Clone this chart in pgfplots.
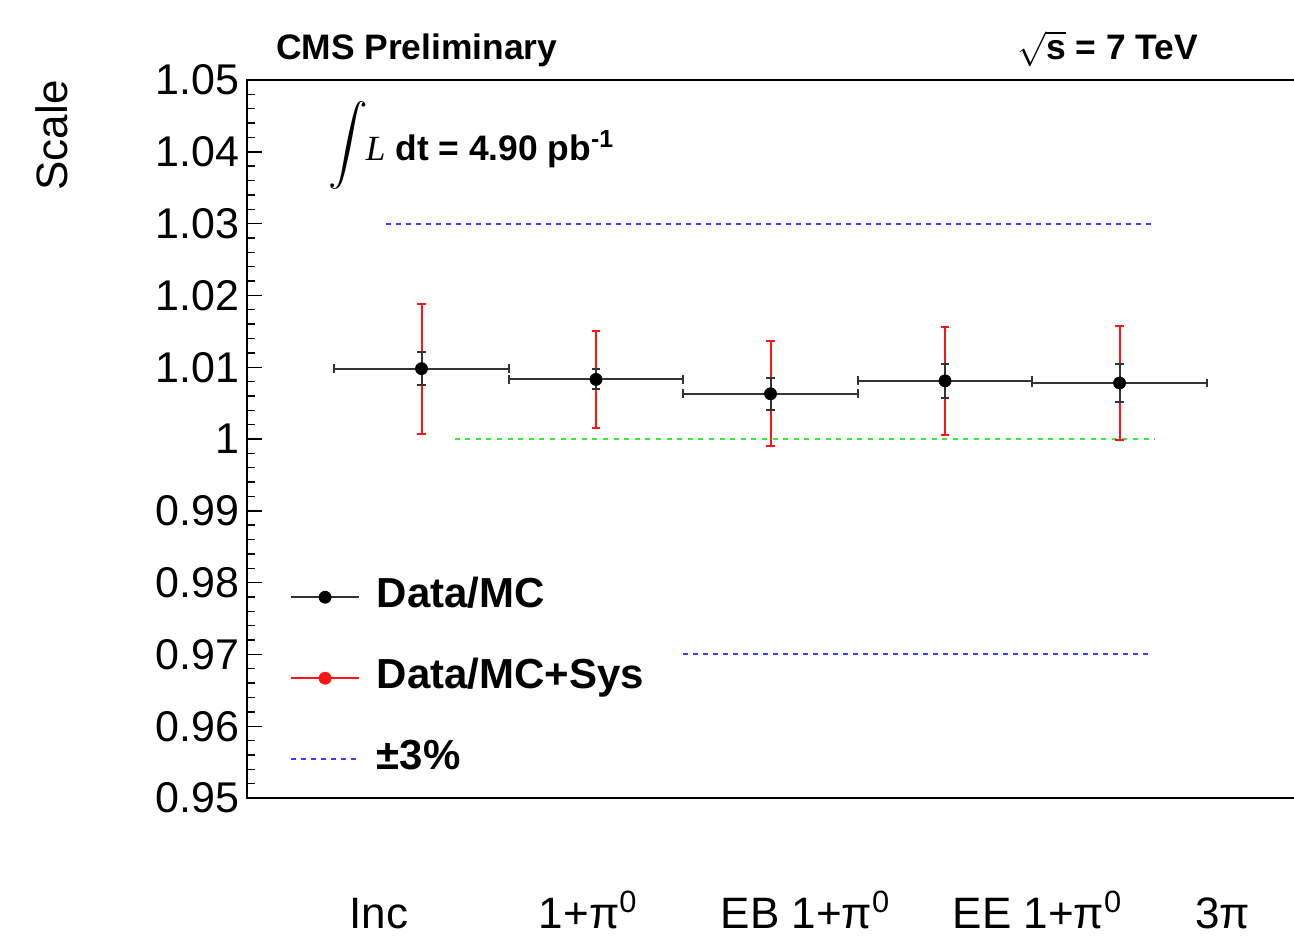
\documentclass[border=0pt]{standalone}
\usepackage{graphicx}
\usepackage{pgfplots}
\pgfplotsset{compat=1.18}
\usepackage{pgfplotstable}
\usepackage{fontspec}
\setmainfont{Liberation Sans}
\newfontfamily\timesfont{Liberation Serif}

\definecolor{rootblue}{RGB}{60,60,255}
\definecolor{rootgreen}{RGB}{50,238,50}
\definecolor{rootred}{RGB}{255,20,20}

% x = bin, y = Data/MC scale, stat = statistical error, sysp/sysm = total (stat+sys) error
\pgfplotstableread{
x y      stat   sysp   sysm
1 1.0098 0.0023 0.0090 0.0091
2 1.0083 0.0014 0.0067 0.0068
3 1.0063 0.0022 0.0073 0.0073
4 1.0081 0.0024 0.0075 0.0075
5 1.0078 0.0027 0.0080 0.0080
}\scaletab

\begin{document}
\begin{tikzpicture}
\begin{axis}[
    scale only axis,
    width=527.9pt, height=359pt,
    xmin=0, xmax=6.05,
    ymin=0.95, ymax=1.05,
    clip=false,
    axis line style={line width=1pt},
    ytick={0.95,0.96,0.97,0.98,0.99,1,1.01,1.02,1.03,1.04,1.05},
    minor y tick num=4,
    ytick pos=left,
    tick align=inside,
    major tick length=7.5pt,
    minor tick length=4pt,
    every tick/.style={black, line width=0.7pt},
    yticklabel style={font=\fontsize{21.5}{24}\selectfont, inner sep=0pt, xshift=-3.5pt,
        /pgf/number format/fixed, /pgf/number format/precision=2,
        /pgf/number format/assume math mode=true},
    xtick={0.756,1.955,3.20,4.53,5.59},
    xticklabels={Inc, 1+π\textsuperscript{0}, EB 1+π\textsuperscript{0}, EE 1+π\textsuperscript{0}, 3π},
    xtick style={draw=none},
    xticklabel style={font=\fontsize{22}{24}\selectfont, anchor=base, yshift=-65pt},
    ylabel={Scale},
    ylabel style={at={(axis description cs:-0.1847,1)}, anchor=east, inner sep=0pt,
        font=\fontsize{22}{26}\selectfont},
    legend style={draw=none, fill=none, at={(axis cs:0.246,0.9808)}, anchor=north west,
        font=\fontsize{21}{25}\selectfont\bfseries, row sep=20.5pt, column sep=8.5pt,
        inner sep=0pt, nodes={text height=15pt, text depth=5pt, inner sep=0pt}},
    legend cell align=left,
]

% +-3% band and unity reference
\addplot[rootblue, line width=1pt, dash pattern=on 2.5pt off 2.5pt, forget plot]
    coordinates {(0.795,1.03) (5.18,1.03)};
\addplot[rootblue, line width=1pt, dash pattern=on 2.5pt off 2.5pt, forget plot]
    coordinates {(2.50,0.97) (5.18,0.97)};
\addplot[rootgreen, line width=1.2pt, dash pattern=on 2.5pt off 2.8pt, forget plot]
    coordinates {(1.19,1.0) (5.20,1.0)};

% stat+sys errors (red)
\addplot[rootred, only marks, mark=none, forget plot,
    error bars/.cd, y dir=both, y explicit,
    error bar style={rootred, line width=1pt},
    error mark options={rotate=90, rootred, line width=1pt, mark size=2.2pt}]
    table[x=x, y=y, y error plus=sysp, y error minus=sysm] {\scaletab};

% stat errors (black)
\addplot[black, only marks, mark=*, mark size=3pt, forget plot,
    error bars/.cd, x dir=both, x fixed=0.5, y dir=both, y explicit,
    error bar style={black!80, line width=1pt},
    error mark options={rotate=90, black!80, line width=1pt, mark size=2.2pt}]
    table[x=x, y=y, y error=stat] {\scaletab};

\addlegendimage{legend image code/.code={
    \draw[black!80, line width=0.8pt] (0pt,0pt) -- (34pt,0pt);
    \fill[black] (17pt,0pt) circle (3pt);}}
\addlegendentry{Data/MC}
\addlegendimage{legend image code/.code={
    \draw[rootred, line width=0.8pt] (0pt,0pt) -- (34pt,0pt);
    \fill[rootred] (17pt,0pt) circle (3pt);}}
\addlegendentry{Data/MC+Sys}
\addlegendimage{legend image code/.code={
    \draw[rootblue, line width=0.8pt, dash pattern=on 2.5pt off 2.5pt] (0pt,0pt) -- (34pt,0pt);}}
\addlegendentry{±3\%}

\node[anchor=base west, font=\fontsize{17.7}{20}\selectfont\bfseries]
    at (axis cs:0.126,1.05279) {CMS Preliminary};
\node[anchor=base east, font=\fontsize{17.7}{20}\selectfont\bfseries]
    at (axis cs:5.49,1.05279) {$\sqrt{\mbox{s}}$ = 7 TeV};
\node[anchor=base west, inner sep=0pt, font=\fontsize{17.7}{20}\selectfont]
    at (axis cs:0.464,1.03882)
    {\smash{\raisebox{-1pt}{\scalebox{1.98}{$\displaystyle\int$}}}\hspace{-1pt}{\timesfont\itshape L}
     \textbf{dt = 4.90 pb\textsuperscript{-1}}};

\end{axis}
\pgfresetboundingbox
\path[use as bounding box]
    ([xshift=-123.5pt, yshift=-72.5pt] current axis.south west)
    rectangle ([xshift=523.5pt, yshift=399pt] current axis.south west);
\end{tikzpicture}
\end{document}
